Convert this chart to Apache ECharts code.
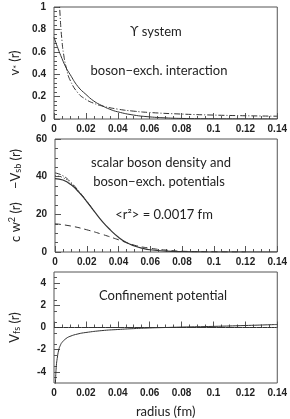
<!DOCTYPE html>
<html>
<head>
<meta charset="utf-8">
<script src="https://cdn.jsdelivr.net/npm/echarts@6/dist/echarts.min.js"></script>
<style>
  html, body { margin: 0; padding: 0; background: #fff; }
  #chart { width: 290px; height: 419px; }
</style>
</head>
<body>
<div id="chart"></div>
<script>
// panel 1: boson-exchange interaction
const vSolid = [[0, 0.73], [0.0025, 0.63], [0.005, 0.54], [0.0075, 0.46], [0.01, 0.40], [0.015, 0.29], [0.02, 0.22],
  [0.025, 0.16], [0.03, 0.12], [0.035, 0.087], [0.04, 0.064], [0.05, 0.035], [0.06, 0.019], [0.07, 0.010],
  [0.08, 0.005], [0.1, 0.002], [0.12, 0.001], [0.14, 0.0]]
const vDashDot = [[0.003, 1.17], [0.004, 0.88], [0.005, 0.70], [0.006, 0.58], [0.008, 0.44], [0.01, 0.35],
  [0.015, 0.233], [0.02, 0.175], [0.025, 0.14], [0.03, 0.117], [0.04, 0.088], [0.05, 0.07], [0.06, 0.058],
  [0.08, 0.044], [0.1, 0.035], [0.12, 0.029], [0.14, 0.025]]

// panel 2: scalar boson density and potentials
const wSolid = [[0, 39], [0.005, 38.2], [0.01, 35.8], [0.015, 31.8], [0.02, 26.8], [0.025, 21.3], [0.03, 16.0],
  [0.035, 11.6], [0.04, 7.8], [0.045, 5.0], [0.05, 3.2], [0.055, 2.0], [0.06, 1.2], [0.07, 0.45],
  [0.08, 0.15], [0.09, 0.05], [0.1, 0], [0.14, 0]]
const wDashDot = [[0, 42], [0.005, 40.5], [0.01, 37.0], [0.015, 32.3], [0.02, 27.0], [0.025, 21.3]]
const wDotted = [[0, 40.5], [0.005, 39.5], [0.01, 36.5], [0.015, 32.0], [0.02, 26.8]]
const wDashed = [[0, 15], [0.01, 13.8], [0.02, 11.8], [0.03, 9.3], [0.04, 6.5], [0.05, 3.6], [0.06, 2.0],
  [0.07, 1.0], [0.08, 0.4], [0.1, 0.1], [0.12, 0]]

// panel 3: confinement potential
const conf = [[0.0009, -5.2], [0.001, -4.6], [0.0015, -3.4], [0.002, -2.8], [0.003, -2.0], [0.004, -1.6],
  [0.005, -1.35], [0.0075, -1.0], [0.01, -0.8], [0.015, -0.58], [0.02, -0.45], [0.03, -0.28], [0.04, -0.18],
  [0.05, -0.1], [0.06, -0.04], [0.07, 0], [0.08, 0.04], [0.1, 0.1], [0.12, 0.18], [0.14, 0.27]]
const zeroLine = [[0, 0], [0.14, 0]]
const confTicks = [-4, -2, 0, 2, 4]

const ink = '#333'
const tickFont = { fontFamily: 'Liberation Sans', fontWeight: 'bold', fontSize: 10, color: '#222' }
const textFont = 'Lato'

const chart = echarts.init(document.getElementById('chart'))

const grids = [
  { left: 45, width: 235, top: 7, height: 112 },
  { left: 45, width: 235, top: 139, height: 113 },
  { left: 45, width: 235, top: 272, height: 112 }
].map(g => Object.assign(g, { show: true, borderColor: '#555', borderWidth: 1, backgroundColor: 'transparent' }))

function xAxis(i, name) {
  return {
    type: 'value', gridIndex: i, min: 0, max: 0.14, interval: 0.02,
    name: name || '', nameLocation: 'middle', nameGap: 22,
    nameTextStyle: { fontFamily: textFont, fontSize: 13, color: '#222' },
    axisLine: { show: false },
    axisTick: { inside: true, length: 6, lineStyle: { color: '#555' } },
    minorTick: { show: true, splitNumber: 4, length: 3, lineStyle: { color: '#555' } },
    splitLine: { show: false },
    axisLabel: Object.assign({ margin: 5, formatter: v => String(+v.toFixed(2)) }, tickFont)
  }
}

function yAxis(i, min, max, interval, minors, name, rich) {
  return {
    type: 'value', gridIndex: i, min, max, interval,
    name, nameLocation: 'middle', nameGap: 32, nameRotate: 90, nameMoveOverlap: false,
    nameTextStyle: { fontFamily: textFont, fontSize: 13, color: '#222', rich },
    axisLine: { show: false },
    axisTick: { inside: true, length: 6, lineStyle: { color: '#555' } },
    minorTick: { show: true, splitNumber: minors, length: 3, lineStyle: { color: '#555' } },
    splitLine: { show: false },
    axisLabel: Object.assign({ margin: 8, hideOverlap: false }, tickFont)
  }
}

const nameRich = {
  a: { fontFamily: textFont, fontSize: 13, color: '#222' },
  s: { fontFamily: textFont, fontSize: 9, color: '#222', verticalAlign: 'bottom', padding: [6, 0, 0, 0] },
  p: { fontFamily: textFont, fontSize: 9, color: '#222', padding: [0, 0, 6, 0] }
}

function line(i, data, type, w) {
  return {
    type: 'line', xAxisIndex: i, yAxisIndex: i, data, showSymbol: false, smooth: true,
    clip: true, silent: true,
    lineStyle: { color: ink, width: w || 1, type: type || 'solid' }
  }
}

function label(text, x, y) {
  return { type: 'text', x, y, style: { text, fontFamily: textFont, fontSize: 13, fill: '#222', textAlign: 'center', textVerticalAlign: 'middle' } }
}

// labels and long ticks only on the even values
const confY = yAxis(2, -5, 5, 1, 2, '{a|V}{s|fs}{a| (r)}', nameRich)
confY.axisTick.customValues = confTicks
confY.axisLabel.customValues = confTicks

chart.setOption({
  animation: false,
  grid: grids,
  xAxis: [xAxis(0), xAxis(1), xAxis(2, 'radius (fm)')],
  yAxis: [
    yAxis(0, 0, 1, 0.2, 5, '{a|v}{s|*}{a| (r)}', nameRich),
    yAxis(1, 0, 60, 20, 4, '{a|c w}{p|2}{a| (r)    −V}{s|sb}{a| (r)}', nameRich),
    confY
  ],
  series: [
    line(0, vSolid),
    line(0, vDashDot, [6, 2, 1, 2]),
    line(1, wSolid, 'solid', 1.2),
    line(1, wDashDot, [6, 2, 1, 2]),
    line(1, wDotted, [1, 2]),
    line(1, wDashed, [6, 4]),
    line(2, zeroLine),
    line(2, conf)
  ],
  graphic: [
    label('ϒ system', 156, 32),
    label('boson−exch. interaction', 159, 71),
    label('scalar boson density and', 161, 163),
    label('boson−exch. potentials', 159, 182),
    label('<r²> = 0.0017 fm', 164, 215),
    label('Confinement potential', 163, 296)
  ]
})
</script>
</body>
</html>
